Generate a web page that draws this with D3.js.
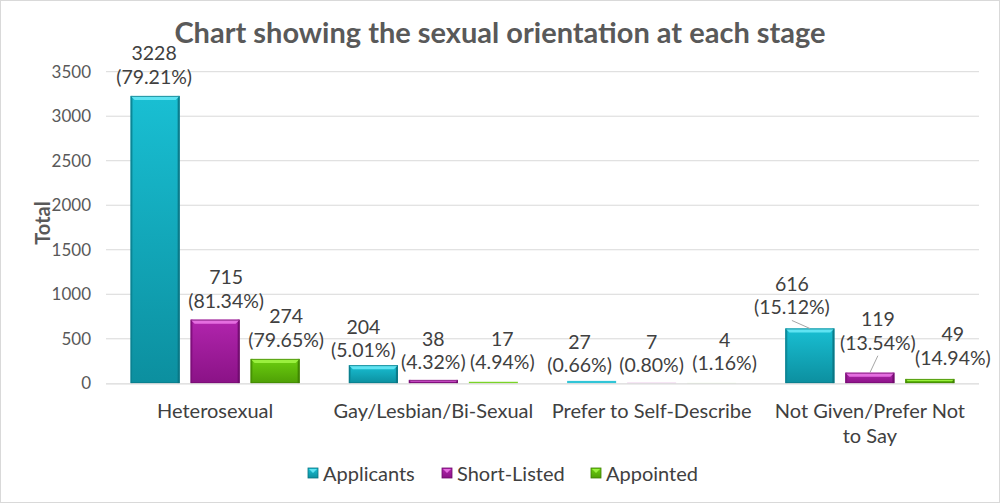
<!DOCTYPE html>
<html><head><meta charset="utf-8">
<script src="https://cdn.jsdelivr.net/npm/d3@7"></script>
<style>
html,body{margin:0;padding:0;background:#fff;}
svg{display:block;font-family:Lato, "Open Sans", sans-serif;}
</style></head>
<body>
<svg id="chart" width="1000" height="503"></svg>
<script>
// ---- data ----
const categories = ["Heterosexual", "Gay/Lesbian/Bi-Sexual", "Prefer to Self-Describe", "Not Given/Prefer Not to Say"];
const seriesNames = ["Applicants", "Short-Listed", "Appointed"];
const applicants = [3228, 204, 27, 616];
const shortListed = [715, 38, 7, 119];
const appointed = [274, 17, 4, 49];
const applicantsPct = ["79.21%", "5.01%", "0.66%", "15.12%"];
const shortListedPct = ["81.34%", "4.32%", "0.80%", "13.54%"];
const appointedPct = ["79.65%", "4.94%", "1.16%", "14.94%"];
const yTicks = [0, 500, 1000, 1500, 2000, 2500, 3000, 3500];

// ---- layout / style (not data) ----
const colors = {
  "Applicants":   {top:"#5fe3f2", hi:"#19bfd3", lo:"#0c8f9f", edge:"#0a7381"},
  "Short-Listed": {top:"#e46ee0", hi:"#b125ad", lo:"#8a1286", edge:"#6d0c6a"},
  "Appointed":    {top:"#9af03e", hi:"#6ccf10", lo:"#4e9f05", edge:"#3d7d03"}
};
// label nudges: [dx from bar centre, dy of lower line centre from bar top, leader]
const labelNudge = [
  [[-1,-19,0],[11,-19,0],[11,-19,0]],
  [[-10,-15,0],[0,-17.5,0],[9,-19.5,0]],
  [[-12,-15.5,0],[0,-17.5,0],[13,-19.5,0]],
  [[-18,-21,1],[8,-30,1],[23,-21,0]]
];

const values = [applicants, shortListed, appointed];
const pcts = [applicantsPct, shortListedPct, appointedPct];

const svg = d3.select("#chart");
const W = 1000, H = 503;
const mLeft = 106, mRight = 979, mTop = 71.7, mBottom = 383.3;
const textCol = "#404040";

svg.append("rect").attr("x",0.5).attr("y",0.5).attr("width",W-1).attr("height",H-1)
  .attr("fill","#fff").attr("stroke","#d9d9d9");

const y = d3.scaleLinear().domain([0,3500]).range([mBottom, mTop]);
const x0 = d3.scaleBand().domain(categories).range([mLeft, mRight]).paddingInner(0).paddingOuter(0);
const groupW = 169;
const x1 = d3.scaleBand().domain(seriesNames)
  .range([(x0.bandwidth()-groupW)/2, (x0.bandwidth()+groupW)/2]).paddingInner(11/60).paddingOuter(0);

const defs = svg.append("defs");
seriesNames.forEach((s,i)=>{
  const g = defs.append("linearGradient").attr("id","g"+i).attr("x1",0).attr("y1",0).attr("x2",0).attr("y2",1);
  g.append("stop").attr("offset","0%").attr("stop-color",colors[s].hi);
  g.append("stop").attr("offset","100%").attr("stop-color",colors[s].lo);
});

// gridlines
svg.append("g").selectAll("line").data(yTicks.filter(d=>d>0)).join("line")
  .attr("x1",mLeft).attr("x2",mRight).attr("y1",d=>y(d)).attr("y2",d=>y(d))
  .attr("stroke","#d9d9d9").attr("stroke-width",1);

// y axis
const yAxis = svg.append("g").attr("transform",`translate(${mLeft},0)`)
  .call(d3.axisLeft(y).tickValues(yTicks).tickFormat(d3.format("d")).tickSize(0).tickPadding(15));
yAxis.select(".domain").remove();
yAxis.selectAll("text").attr("font-size",17).attr("fill","#595959").attr("font-family","Lato");

// bars
const groups = svg.append("g").selectAll("g").data(categories).join("g")
  .attr("transform",d=>`translate(${x0(d)},0)`);

categories.forEach((c,ci)=>{
  const g = groups.filter(d=>d===c);
  seriesNames.forEach((s,si)=>{
    const v = values[si][ci];
    const bx = x1(s), bw = x1.bandwidth();
    const by = y(v), bh = y(0)-y(v);
    const col = colors[s];
    if (bh < 3) {
      g.append("rect").attr("x",bx).attr("y",by).attr("width",bw).attr("height",bh)
        .attr("fill",col.hi).attr("opacity",bh < 1 ? 0.35 : 0.9);
      return;
    }
    g.append("rect").attr("x",bx).attr("y",by).attr("width",bw).attr("height",bh)
      .attr("fill",`url(#g${si})`);
    const bev = Math.min(4, bh/2);
    g.append("rect").attr("x",bx).attr("y",by).attr("width",2).attr("height",bh).attr("fill",col.lo).attr("opacity",0.8);
    g.append("rect").attr("x",bx+bw-2).attr("y",by).attr("width",2).attr("height",bh).attr("fill",col.edge).attr("opacity",0.8);
    g.append("path").attr("d",`M${bx},${by}L${bx+bw},${by}L${bx+bw-bev},${by+bev}L${bx+bev},${by+bev}Z`)
      .attr("fill",col.top);
    g.append("rect").attr("x",bx+0.5).attr("y",by+0.5).attr("width",bw-1).attr("height",Math.max(0,bh-1))
      .attr("fill","none").attr("stroke",col.edge).attr("stroke-width",1).attr("opacity",0.7);
  });
});

// x axis line
svg.append("line").attr("x1",mLeft).attr("x2",mRight).attr("y1",mBottom+0.5).attr("y2",mBottom+0.5)
  .attr("stroke","#d9d9d9").attr("stroke-width",1.2);

// category labels (wrapped)
const catG = svg.append("g");
categories.forEach(c=>{
  const cx = x0(c)+x0.bandwidth()/2;
  const t = catG.append("text").attr("x",cx).attr("y",418).attr("text-anchor","middle")
    .attr("font-size",20).attr("fill",textCol);
  if (c === "Not Given/Prefer Not to Say") {
    t.append("tspan").attr("x",cx).text("Not Given/Prefer Not");
    t.append("tspan").attr("x",cx).attr("dy",24.5).text("to Say");
  } else t.text(c);
});

// data labels
const lab = svg.append("g");
categories.forEach((c,ci)=>{
  seriesNames.forEach((s,si)=>{
    const v = values[si][ci];
    const bcx = x0(c)+x1(s)+x1.bandwidth()/2;
    const [dx,dy,leader] = labelNudge[ci][si];
    const lx = bcx+dx, ly = y(v)+dy;
    lab.append("text").attr("x",lx).attr("y",ly+7).attr("text-anchor","middle")
      .attr("font-size",19.5).attr("fill",textCol).text(`(${pcts[si][ci]})`);
    lab.append("text").attr("x",lx).attr("y",ly+7-23.5).attr("text-anchor","middle")
      .attr("font-size",19.5).attr("fill",textCol).text(v);
    if (leader) {
      lab.append("line").attr("x1",lx).attr("y1",ly+13).attr("x2",bcx).attr("y2",y(v))
        .attr("stroke","#a6a6a6").attr("stroke-width",1);
    }
  });
});

// axis title
svg.append("text").attr("transform","translate(50,223) rotate(-90)").attr("text-anchor","middle")
  .attr("font-size",20).attr("font-weight","bold").attr("fill","#595959").text("Total");

// chart title
svg.append("text").attr("x",500).attr("y",43).attr("text-anchor","middle")
  .attr("font-size",29).attr("font-weight","bold").attr("fill","#595959")
  .text("Chart showing the sexual orientation at each stage");

// legend
const legendX = [308, 442, 591];
const leg = svg.append("g");
seriesNames.forEach((s,si)=>{
  const lg = leg.append("g").attr("transform",`translate(${legendX[si]},468)`);
  lg.append("rect").attr("width",10).attr("height",10).attr("fill",`url(#g${si})`)
    .attr("stroke",colors[s].edge).attr("stroke-width",0.8);
  lg.append("path").attr("d","M1,1L9,1L5,5Z").attr("fill",colors[s].top);
  lg.append("text").attr("x",15).attr("y",12.5).attr("font-size",20).attr("fill",textCol).text(s);
});
</script>
</body></html>
